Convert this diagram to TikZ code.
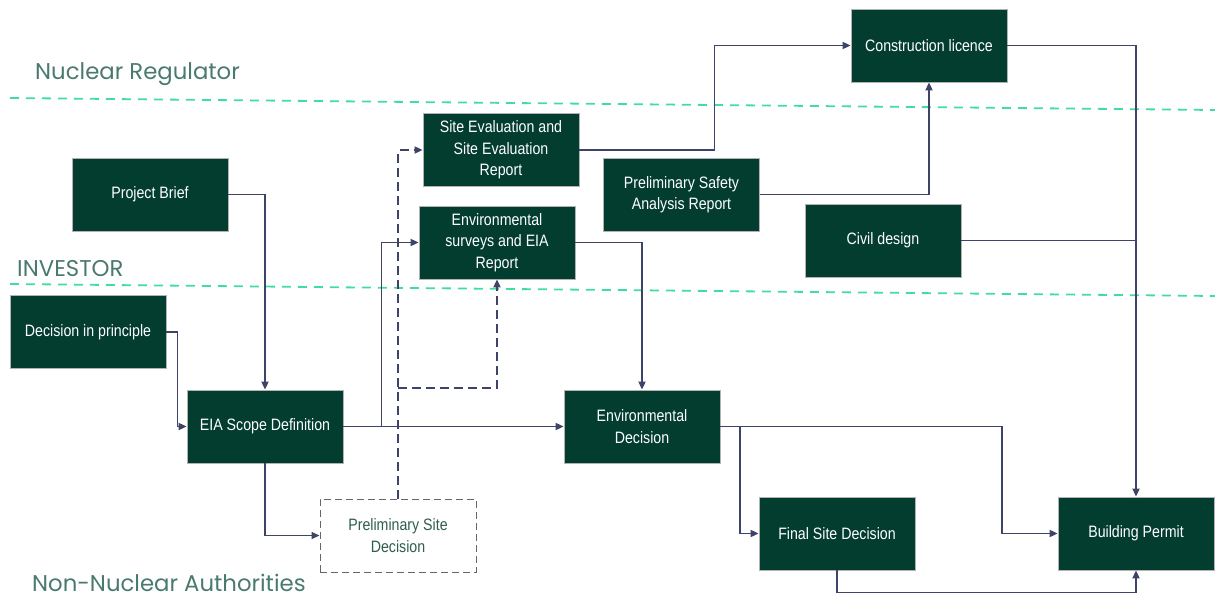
\documentclass[tikz,border=0pt]{standalone}
\usepackage{fontspec}
\setmainfont{Liberation Sans}[FakeStretch=0.86]
\newfontfamily\labfont{Poppins}
\usetikzlibrary{arrows.meta}
\definecolor{boxgreen}{HTML}{023D30}
\definecolor{conncol}{HTML}{3E4468}
\definecolor{sepgreen}{HTML}{3FDDA0}
\definecolor{labcol}{HTML}{4A7A6E}
\definecolor{psdtext}{HTML}{2E5E4E}
\tikzset{
  stepbox/.style={draw=gray!60, line width=0.8pt, fill=boxgreen, text=white, minimum width=156pt, minimum height=73pt, inner sep=0pt, align=center, font=\fontsize{16.5}{21.5}\selectfont},
  dashbox/.style={draw=gray!80!black, line width=1pt, dash pattern=on 7pt off 4pt, fill=white, text=psdtext, minimum width=156pt, minimum height=73pt, inner sep=0pt, align=center, font=\fontsize{16.5}{21.5}\selectfont},
  conn/.style={draw=conncol, line width=1.8pt, -{Triangle[length=8pt,width=7pt]}},
  plainconn/.style={draw=conncol, line width=1.8pt},
  dconn/.style={conn, dash pattern=on 9pt off 5pt},
  sepline/.style={draw=sepgreen, line width=1.8pt, dash pattern=on 9pt off 7pt},
  lanelabel/.style={anchor=base west, text=labcol, inner sep=0pt, text depth=0pt, font=\labfont\fontsize{22.8}{26}\selectfont}
}
\begin{document}
\begin{tikzpicture}[x=1pt,y=-1pt]
\useasboundingbox (0,0) rectangle (1215,597);
% lane separators
\coordinate (s1a) at (10,98);
\coordinate (s1b) at (1215,110);
\coordinate (s2a) at (10,284);
\coordinate (s2b) at (1215,296);
\draw[sepline] (s1a) -- (s1b);
\draw[sepline] (s2a) -- (s2b);
\node[lanelabel] (lnr) at (35,79) {Nuclear Regulator};
\node[lanelabel] (linv) at (17,276) {INVESTOR};
\node[lanelabel] (lnna) at (32,591) {Non-Nuclear Authorities};
% boxes
\node[stepbox] (cl) at (929,45.5) {Construction licence};
\node[stepbox] (se) at (501,150) {Site Evaluation and\\Site Evaluation\\Report};
\node[stepbox] (psar) at (681.5,194.5) {Preliminary Safety\\Analysis Report};
\node[stepbox] (cd) at (883,240.5) {Civil design};
\node[stepbox] (pb) at (150,194.5) {Project Brief};
\node[stepbox] (envs) at (497,242.5) {Environmental\\surveys and EIA\\Report};
\node[stepbox] (dip) at (88,332) {Decision in principle};
\node[stepbox] (eia) at (265,426.5) {EIA Scope Definition};
\node[stepbox] (envd) at (642,426.5) {Environmental\\Decision};
\node[dashbox] (psd) at (398,535.5) {Preliminary Site\\Decision};
\node[stepbox] (fsd) at (837,533.5) {Final Site Decision};
\node[stepbox] (bp) at (1136,533.5) {Building Permit};
% connectors
\draw[conn] (pb.east) -| (eia.north);
\draw[conn] (dip.east) -- ++(11,0) |- (eia.west);
\draw[conn] (eia.east) -- (envd.west);
\draw[conn] (eia.east) -- ++(38,0) |- (envs.west);
\draw[conn] (envs.east) -| (envd.north);
\draw[conn] (eia.south) |- (psd.west);
\draw[dconn] (psd.north) |- (se.west);
\coordinate (dj) at (398,388);
\draw[dconn] (dj) -| (envs.south);
\draw[conn] (se.east) -- ++(135,0) |- (cl.west);
\draw[conn] (psar.east) -| (cl.south);
\draw[conn] (cl.east) -| (bp.north);
\coordinate (cdj) at (1136,240.5);
\draw[plainconn] (cd.east) -- (cdj);
\draw[conn] (envd.east) -- ++(281.5,0) |- (bp.west);
\draw[conn] (envd.east) -- ++(19.5,0) |- (fsd.west);
\draw[conn] (fsd.south) -- ++(0,22) -| (bp.south);
\end{tikzpicture}
\end{document}
